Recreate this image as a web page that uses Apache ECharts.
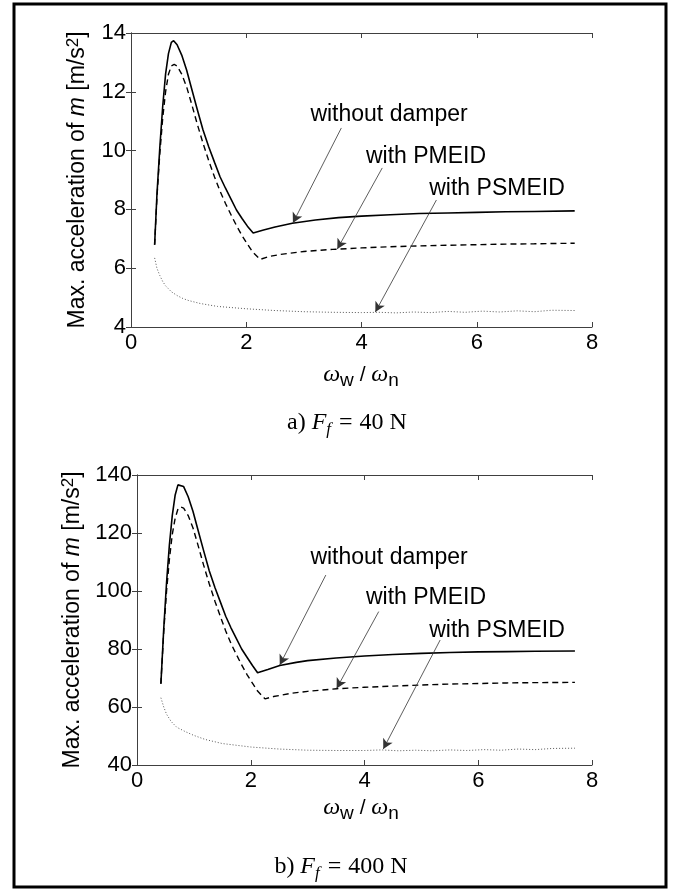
<!DOCTYPE html>
<html>
<head>
<meta charset="utf-8">
<script src="https://cdn.jsdelivr.net/npm/echarts@6/dist/echarts.min.js"></script>
<style>
html, body { margin: 0; padding: 0; background: #fff; }
#main { width: 674px; height: 890px; }
</style>
</head>
<body>
<div id="main"></div>
<script>
// tick values
var xTicks = [0, 2, 4, 6, 8];
var yTicksA = [4, 6, 8, 10, 12, 14];
var yTicksB = [40, 60, 80, 100, 120, 140];

// a) F_f = 40 N
var aNoDamperX = [0.41,0.45,0.50,0.55,0.60,0.65,0.70,0.74,0.80,0.88,0.965,1.05,1.15,1.25,1.35,1.45,1.545,1.64,1.74,1.83,1.93,2.02,2.12,2.30,2.50,2.80,3.20,3.60,4.00,4.50,5.00,5.50,6.00,6.50,7.00,7.70];
var aNoDamperY = [6.8,8.5,10.1,11.5,12.6,13.3,13.68,13.74,13.6,13.25,12.74,12.12,11.4,10.7,10.12,9.6,9.11,8.72,8.33,7.98,7.68,7.43,7.2,7.3,7.4,7.53,7.64,7.72,7.77,7.82,7.86,7.88,7.9,7.92,7.93,7.95];
var aPmeidX = [0.41,0.45,0.50,0.55,0.60,0.65,0.70,0.75,0.80,0.88,0.965,1.05,1.15,1.25,1.35,1.45,1.545,1.64,1.74,1.83,1.93,2.02,2.11,2.24,2.40,2.60,3.00,3.50,4.00,4.50,5.00,5.50,6.00,6.50,7.00,7.70];
var aPmeidY = [6.8,8.4,9.9,11.1,12.0,12.6,12.88,12.93,12.88,12.6,12.17,11.6,10.9,10.25,9.65,9.1,8.62,8.2,7.8,7.45,7.1,6.82,6.55,6.3,6.4,6.47,6.57,6.64,6.69,6.73,6.76,6.78,6.8,6.82,6.83,6.85];
var aPsmeidX = [0.41,0.45,0.50,0.55,0.60,0.70,0.80,0.90,1.00,1.20,1.50,2.00,2.50,3.00,3.50,4.00,4.30,4.60,4.90,5.20,5.50,5.80,6.10,6.40,6.70,7.00,7.30,7.70];
var aPsmeidY = [6.35,6.0,5.75,5.55,5.4,5.2,5.07,4.97,4.9,4.8,4.7,4.62,4.56,4.52,4.5,4.49,4.5,4.48,4.51,4.49,4.53,4.5,4.54,4.51,4.55,4.52,4.57,4.56];

// b) F_f = 400 N
var bNoDamperX = [0.42,0.47,0.52,0.57,0.62,0.67,0.72,0.75,0.82,0.90,0.985,1.07,1.17,1.27,1.37,1.47,1.56,1.65,1.75,1.84,1.94,2.03,2.12,2.30,2.51,2.80,3.00,3.50,4.00,4.50,5.00,5.50,6.00,6.50,7.00,7.70];
var bNoDamperY = [68,87,103,116,126,133,136.6,137.2,136,132.5,127.4,121.2,114,107,101.2,96,91.3,87.4,83.5,80,77,74.3,71.8,72.9,74.3,75.4,76.0,76.9,77.6,78.1,78.5,78.8,79.0,79.1,79.2,79.3];
var bPmeidX = [0.42,0.47,0.52,0.57,0.62,0.67,0.72,0.76,0.82,0.90,0.985,1.07,1.17,1.27,1.37,1.47,1.56,1.65,1.75,1.84,1.94,2.03,2.12,2.25,2.40,2.70,3.00,3.51,4.00,4.50,5.00,5.50,6.00,6.50,7.00,7.70];
var bPmeidY = [68,86,100,111,119.5,125,128.3,129,128.6,126,121.7,116,109,102.5,96.5,91,86.2,82,78,74.5,71,68.2,65.5,62.8,63.6,64.7,65.4,66.3,66.8,67.2,67.6,67.9,68.1,68.3,68.4,68.5];
var bPsmeidX = [0.42,0.47,0.52,0.60,0.70,0.85,1.00,1.20,1.50,2.00,2.50,3.00,3.50,4.00,4.30,4.60,4.90,5.20,5.50,5.80,6.10,6.40,6.70,7.00,7.30,7.70];
var bPsmeidY = [63.2,60,57.5,55,53,51.5,50.2,48.8,47.4,46.2,45.5,45.1,45.0,45.0,45.2,44.9,45.1,44.9,45.2,45.0,45.3,45.1,45.5,45.3,45.7,45.8];

// annotation arrows: [startX, startY, endX, endY] in data units
var aArrows = [[3.65, 10.77, 2.81, 7.54], [4.36, 9.41, 3.58, 6.65], [5.30, 8.32, 4.24, 4.51]];
var bArrows = [[3.32, 105.5, 2.51, 74.5], [4.25, 92.9, 3.51, 66.4], [5.33, 83.1, 4.33, 45.5]];
var labels = ['without damper', 'with PMEID', 'with PSMEID'];

function zip(xs, ys) {
	var out = [];
	for (var i = 0; i < xs.length; i++) out.push([xs[i], ys[i]]);
	return out;
}

function arrowData(list) {
	return list.map(function (a) {
		return [{ coord: [a[0], a[1]] }, { coord: [a[2], a[3]] }];
	});
}

var sans = '"Liberation Sans", Arial, sans-serif';
var serif = '"Liberation Serif", "Times New Roman", serif';
var axisColor = '#404040';

function mainX(gi) {
	return {
		type: 'value', gridIndex: gi, position: 'bottom',
		min: xTicks[0], max: xTicks[xTicks.length - 1], interval: xTicks[1] - xTicks[0],
		axisLine: { show: true, lineStyle: { color: axisColor, width: 1 } },
		axisTick: { show: true, inside: true, length: 5, lineStyle: { color: axisColor } },
		axisLabel: { color: '#000', fontSize: 22, fontFamily: sans, margin: 5 },
		splitLine: { show: false }
	};
}
function topX(gi) {
	return {
		type: 'value', gridIndex: gi, position: 'top',
		min: xTicks[0], max: xTicks[xTicks.length - 1], interval: xTicks[1] - xTicks[0],
		axisLine: { show: true, lineStyle: { color: axisColor, width: 1 } },
		axisTick: { show: true, inside: true, length: 5, lineStyle: { color: axisColor } },
		axisLabel: { show: false },
		splitLine: { show: false }
	};
}
function mainY(gi, ticks) {
	return {
		type: 'value', gridIndex: gi, position: 'left',
		min: ticks[0], max: ticks[ticks.length - 1], interval: ticks[1] - ticks[0],
		name: '{a|Max. acceleration of }{i|m}{a| [m/s}{s|2}{a|]}',
		nameLocation: 'middle', nameGap: 40,
		nameTextStyle: {
			rich: {
				a: { fontSize: 23, fontFamily: sans, color: '#000', lineHeight: 26 },
				i: { fontSize: 23, fontFamily: sans, fontStyle: 'italic', color: '#000', lineHeight: 26 },
				s: { fontSize: 17, fontFamily: sans, color: '#000', verticalAlign: 'top', lineHeight: 14 }
			}
		},
		axisLine: { show: true, lineStyle: { color: axisColor, width: 1 } },
		axisTick: { show: true, inside: true, length: 5, lineStyle: { color: axisColor } },
		axisLabel: { color: '#000', fontSize: 22, fontFamily: sans, margin: 5 },
		splitLine: { show: false }
	};
}
function rightY(gi, ticks) {
	return {
		type: 'value', gridIndex: gi, position: 'right',
		min: ticks[0], max: ticks[ticks.length - 1], interval: ticks[1] - ticks[0],
		axisLine: { show: true, lineStyle: { color: axisColor, width: 1 } },
		axisTick: { show: true, inside: true, length: 5, lineStyle: { color: axisColor } },
		axisLabel: { show: false },
		splitLine: { show: false }
	};
}

function curve(name, data, xi, yi, type, width, color, arrows) {
	var s = {
		name: name, type: 'line', xAxisIndex: xi, yAxisIndex: yi,
		data: data, showSymbol: false, symbol: 'none', silent: true,
		lineStyle: { color: color, width: width, type: type }
	};
	if (arrows) {
		s.markLine = {
			silent: true, symbol: ['none', 'arrow'], symbolSize: [8, 10],
			label: { show: false },
			lineStyle: { color: '#333', width: 0.8, type: 'solid' },
			data: arrowData(arrows)
		};
	}
	return s;
}

function subLabel(x, y, letter, value) {
	return {
		type: 'text', x: x, y: y,
		style: {
			text: '{r|' + letter + ') }{i|F}{f|f}{e|=}{r|' + value + ' N}',
			align: 'center', verticalAlign: 'middle',
			rich: {
				r: { fontSize: 24, fontFamily: serif, fill: '#000', lineHeight: 30 },
				e: { fontSize: 24, fontFamily: serif, fill: '#000', lineHeight: 30, padding: [0, 7, 0, 8] },
				i: { fontSize: 24, fontFamily: serif, fontStyle: 'italic', fill: '#000', lineHeight: 30 },
				f: { fontSize: 17, fontFamily: serif, fontStyle: 'italic', fill: '#000', verticalAlign: 'bottom', lineHeight: 20 }
			}
		}
	};
}

function omegaLabel(x, y) {
	return {
		type: 'text', x: x, y: y,
		style: {
			text: '{o|ω}{s|w}{a| / }{o|ω}{s|n}',
			align: 'center', verticalAlign: 'middle',
			rich: {
				o: { fontSize: 24, fontFamily: serif, fontStyle: 'italic', fill: '#000', lineHeight: 30 },
				a: { fontSize: 21, fontFamily: sans, fill: '#000', lineHeight: 30 },
				s: { fontSize: 19, fontFamily: sans, fill: '#000', verticalAlign: 'bottom', lineHeight: 18 }
			}
		}
	};
}

function note(x, y, text) {
	return {
		type: 'text', x: x, y: y,
		style: { text: text, font: '23px ' + sans, fill: '#000', align: 'center', verticalAlign: 'middle' }
	};
}

var chart = echarts.init(document.getElementById('main'));
var option = {
	animation: false,
	grid: [
		{ left: 131, top: 33, width: 461, height: 294 },
		{ left: 137, top: 475, width: 455, height: 290 }
	],
	xAxis: [mainX(0), topX(0), mainX(1), topX(1)],
	yAxis: [mainY(0, yTicksA), rightY(0, yTicksA), mainY(1, yTicksB), rightY(1, yTicksB)],
	series: [
		curve(labels[0], zip(aNoDamperX, aNoDamperY), 0, 0, 'solid', 1.6, '#000', aArrows),
		curve(labels[1], zip(aPmeidX, aPmeidY), 0, 0, [6, 4], 1.4, '#000'),
		curve(labels[2], zip(aPsmeidX, aPsmeidY), 0, 0, [1, 2], 1, '#555'),
		curve(labels[0], zip(bNoDamperX, bNoDamperY), 2, 2, 'solid', 1.6, '#000', bArrows),
		curve(labels[1], zip(bPmeidX, bPmeidY), 2, 2, [6, 4], 1.4, '#000'),
		curve(labels[2], zip(bPsmeidX, bPsmeidY), 2, 2, [1, 2], 1, '#555')
	],
	graphic: [
		{ type: 'rect', shape: { x: 14, y: 4, width: 652, height: 883 }, style: { fill: 'none', stroke: '#000', lineWidth: 3 } },
		note(389, 115, labels[0]),
		note(426, 157, labels[1]),
		note(497, 189, labels[2]),
		note(389, 558, labels[0]),
		note(426, 598, labels[1]),
		note(497, 631, labels[2]),
		omegaLabel(361, 375),
		omegaLabel(361, 808),
		subLabel(347, 423, 'a', '40'),
		subLabel(341, 867, 'b', '400')
	]
};
chart.setOption(option);
</script>
</body>
</html>
